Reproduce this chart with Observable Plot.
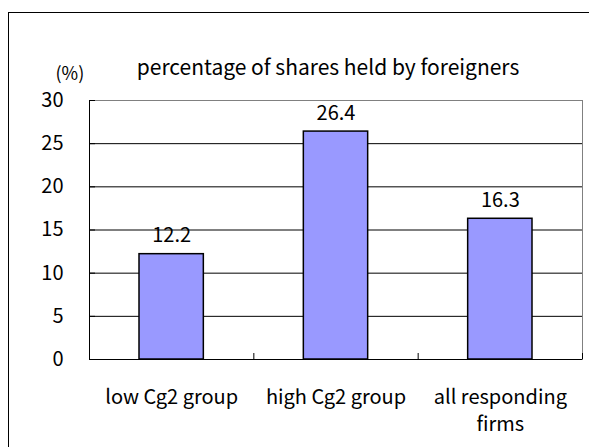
<!DOCTYPE html>
<html>
<head>
<meta charset="utf-8">
<script src="https://cdn.jsdelivr.net/npm/d3@7"></script>
<script src="https://cdn.jsdelivr.net/npm/@observablehq/plot@0.6"></script>
<style>
  html, body { margin: 0; padding: 0; background: #fff; }
  #wrap { position: relative; width: 589px; height: 447px; overflow: hidden; }
  #border { position: absolute; left: 8px; top: 12px; width: 700px; height: 600px;
            border-left: 1px solid #000; border-top: 1px solid #000; pointer-events: none; }
  #chart { position: absolute; left: 0; top: 0; }
</style>
</head>
<body>
<div id="wrap"><div id="chart"></div><div id="border"></div></div>
<script>
const categories = ["low Cg2 group", "high Cg2 group", "all responding\nfirms"];
const values = [12.2, 26.4, 16.3];
const yTicks = [0, 5, 10, 15, 20, 25, 30];
const title = "percentage of shares held by foreigners";
const unitLabel = "(%)";

const data = categories.map((c, i) => ({category: c, index: i, value: values[i]}));
const font = "'Noto Sans CJK JP', sans-serif";
const W = 589, H = 447, mL = 89, mR = 7, mT = 100, mB = 88;
const frameW = W - mL - mR, frameH = H - mT - mB;

const chart = Plot.plot({
  width: W,
  height: H,
  marginLeft: mL,
  marginRight: mR,
  marginTop: mT,
  marginBottom: mB,
  style: {fontFamily: font, fontSize: "20px", color: "#000", background: "transparent"},
  x: {domain: [0, categories.length], axis: null},
  y: {domain: [0, 30], axis: null},
  marks: [
    Plot.frame({stroke: "#808080"}),
    Plot.ruleY(yTicks.filter(t => t > 0 && t < 30), {stroke: "#000"}),
    Plot.rectY(data, {x1: d => d.index, x2: d => d.index + 1, y: "value",
      insetLeft: 50, insetRight: 50, fill: "#9999ff", stroke: "#000", strokeWidth: 1.5}),
    // inward y ticks
    Plot.ruleY(yTicks, {stroke: "#000", insetRight: frameW - 6}),
    // inward category boundary ticks
    Plot.ruleX(d3.range(1, categories.length + 1), {stroke: "#000", insetTop: frameH - 6}),
    Plot.axisY({ticks: yTicks, tickSize: 0, tickPadding: 26, fontSize: 20, fill: "#000", label: null}),
    Plot.axisX({ticks: categories.map((c, i) => i + 0.5), tickSize: 0, tickPadding: 25,
      tickFormat: x => categories[Math.floor(x)], lineHeight: 1.35, fontSize: 20, fill: "#000", label: null}),
    Plot.ruleX([0], {stroke: "#000"}),
    Plot.ruleY([0], {stroke: "#000"}),
    Plot.text(data, {x: d => d.index + 0.5, y: "value", text: d => d.value.toFixed(1),
      lineAnchor: "bottom", dy: -12, fontSize: 20, fill: "#000"}),
    Plot.text([title], {frameAnchor: "top", dx: -8, dy: -40, fontSize: 21, fill: "#000"}),
    Plot.text([unitLabel], {frameAnchor: "top-left", dx: -34, dy: -33, fontSize: 18, fill: "#000"})
  ]
});
document.getElementById("chart").appendChild(chart);
</script>
</body>
</html>
